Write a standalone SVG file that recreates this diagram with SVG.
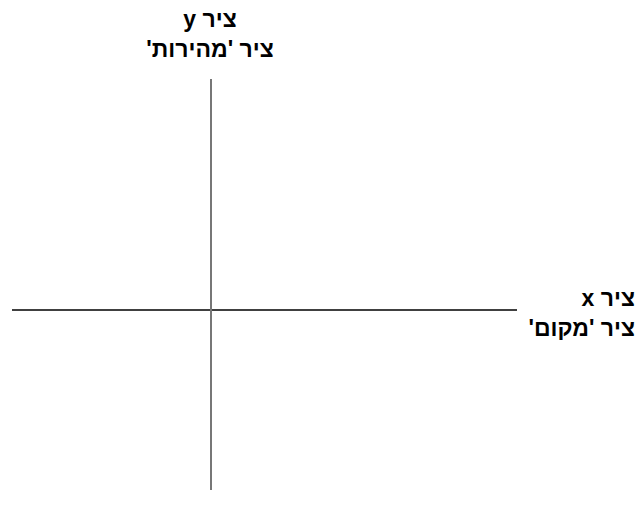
<svg xmlns="http://www.w3.org/2000/svg" width="638" height="517" viewBox="0 0 638 517">
<style>
.lbl{font-family:"Liberation Sans","DejaVu Sans",sans-serif;font-weight:bold;font-size:23px;fill:#000}
.m{text-anchor:middle}
.e{text-anchor:end}
</style>
<rect width="638" height="517" fill="#fff"/>
<g id="connectors">
<line id="x-axis" x1="12" y1="310" x2="517" y2="310" stroke="#000" stroke-width="1.5"/>
<line id="y-axis" x1="211" y1="79" x2="211" y2="490" stroke="#777" stroke-width="2"/>
</g>
<g id="label-y">
<text class="lbl m" x="210" y="27">&#x202B;ציר y&#x202C;</text>
<text class="lbl m" x="210" y="57">&#x202B;ציר 'מהירות'&#x202C;</text>
</g>
<g id="label-x">
<text class="lbl e" x="635" y="306">&#x202B;ציר x&#x202C;</text>
<text class="lbl e" x="635" y="336">&#x202B;ציר 'מקום'&#x202C;</text>
</g>
</svg>
